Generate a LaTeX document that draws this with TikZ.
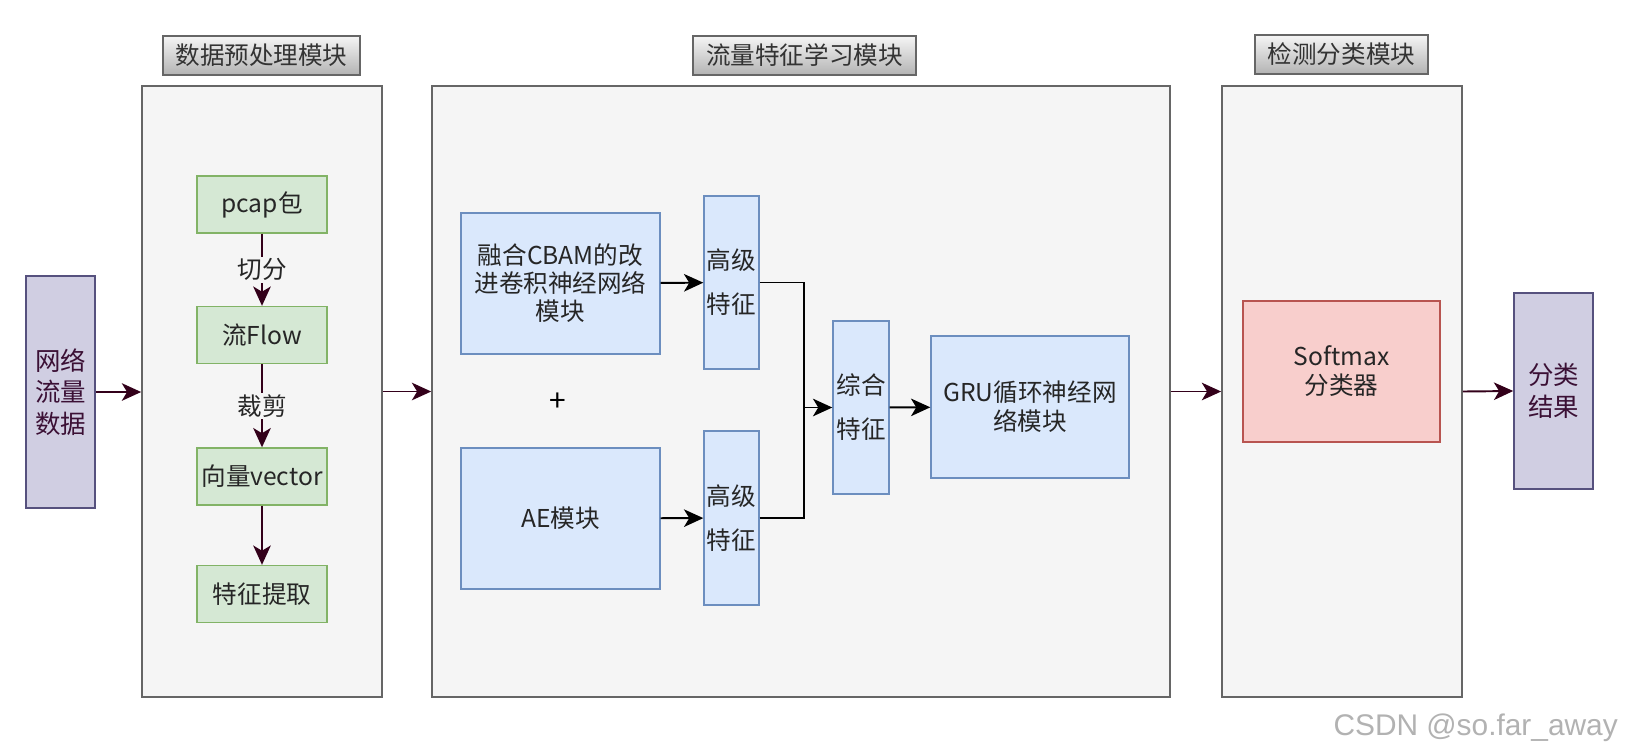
\documentclass[tikz,border=0pt]{standalone}
\usepackage{fontspec}
\setmainfont{Noto Sans CJK SC}
\newfontfamily\wmfont{Liberation Sans}
\usetikzlibrary{positioning, arrows.meta, calc}

\definecolor{panelfill}{HTML}{F5F5F5}
\definecolor{panelline}{HTML}{666666}
\definecolor{titlebot}{HTML}{B3B3B3}
\definecolor{grnfill}{HTML}{D5E8D4}
\definecolor{grnline}{HTML}{82B366}
\definecolor{bluefill}{HTML}{DAE8FC}
\definecolor{blueline}{HTML}{6C8EBF}
\definecolor{redfill}{HTML}{F8CECC}
\definecolor{redline}{HTML}{B85450}
\definecolor{purfill}{HTML}{D0CEE2}
\definecolor{purline}{HTML}{56517E}
\definecolor{wine}{HTML}{33001A}
\definecolor{purtext}{HTML}{3B1035}

\begin{document}
\begin{tikzpicture}[
  x=0.02cm, y=-0.02cm,
  font=\fontsize{14}{16}\selectfont,
  panel/.style={draw=panelline, fill=panelfill, line width=1pt, inner sep=0pt,
    minimum width=4.8cm, minimum height=12.22cm},
  title/.style={draw=panelline, top color=panelfill, bottom color=titlebot, line width=0.8pt,
    minimum height=0.78cm, inner sep=0pt, text=black!80, font=\fontsize{14}{16}\selectfont},
  iobox/.style={draw=purline, fill=purfill, line width=0.9pt, align=center, inner sep=2pt,
    text=purtext, font=\fontsize{14.5}{18}\selectfont},
  prepbox/.style={draw=grnline, fill=grnfill, line width=0.8pt, align=center, inner sep=2pt,
    minimum width=2.6cm, minimum height=1.14cm, text=black!85},
  learnbox/.style={draw=blueline, fill=bluefill, line width=0.8pt, align=center, inner sep=2pt,
    minimum width=3.98cm, minimum height=2.82cm, text=black!85},
  featbox/.style={draw=blueline, fill=bluefill, line width=0.8pt, align=center, inner sep=1pt,
    minimum width=1.1cm, minimum height=3.46cm, text=black!85, font=\fontsize{14}{25}\selectfont},
  clsbox/.style={draw=redline, fill=redfill, line width=0.8pt, align=center, inner sep=2pt,
    minimum width=3.94cm, minimum height=2.82cm, text=black!85},
  cut/.style={fill=panelfill, inner sep=1pt, text=black!85},
  wflow/.style={-{Stealth[length=11pt, width=10pt, inset=3pt]}, line width=1.1pt, draw=wine},
  bflow/.style={-{Stealth[length=11pt, width=10pt, inset=3pt]}, line width=1.1pt, draw=black},
  bline/.style={line width=1.1pt, draw=black}
]

\fill[white] (0,0) rectangle (1626,755);
\useasboundingbox (0,0) rectangle (1626,755);

% --- three module panels with their titles ---
\node[panel] (prep) at (262,391.5) {};
\node[panel, minimum width=14.76cm] (learn) at (801,391.5) {};
\node[panel] (detect) at (1342,391.5) {};

\node[title, minimum width=3.94cm] (t1) at (261.5,55.5) {数据预处理模块};
\node[title, minimum width=4.46cm] (t2) at (804.5,55.5) {流量特征学习模块};
\node[title, minimum width=3.46cm] (t3) at (1341.5,54.5) {检测分类模块};

% --- input and output ---
\node[iobox, minimum width=1.38cm, minimum height=4.64cm] (net) at (60.5,392) {网络\\流量\\数据};
\node[iobox, minimum width=1.58cm, minimum height=3.92cm] (res) at (1553.5,391) {分类\\结果};

% --- preprocessing steps ---
\node[prepbox] (pcap) at (262,204.5) {pcap包};
\node[prepbox] (flow) at (262,335) {流Flow};
\node[prepbox] (vec)  at (262,476.5) {向量vector};
\node[prepbox] (ext)  at (262,594) {特征提取};

\draw[wflow] (pcap) -- node[cut] {切分} (flow);
\draw[wflow] (flow) -- node[cut] {裁剪} (vec);
\draw[wflow] (vec) -- (ext);

% --- feature learning ---
\node[learnbox] (cbam) at (560.5,283.5) {融合CBAM的改\\进卷积神经网络\\模块};
\node[learnbox] (ae)   at (560.5,518.5) {AE模块};
\node[featbox] (hi1) at (731.5,282.5) {高级\\特征};
\node[featbox, minimum height=3.48cm] (hi2) at (731.5,518) {高级\\特征};
\node (plus) at (558,402) {\fontsize{17}{17}\selectfont +};
\node[featbox, minimum width=1.12cm] (mix) at (861,407.5) {综合\\特征};
\node[learnbox, minimum width=3.96cm, minimum height=2.84cm, font=\fontsize{14}{16.5}\selectfont]
  (gru) at (1030,407) {GRU循环神经网\\络模块};
\coordinate (jn) at (804,407.5);

\draw[bflow] (cbam) -- (hi1);
\draw[bflow] (ae) -- (hi2);
\draw[bline] (hi1.east) -| (jn);
\draw[bline] (hi2.east) -| (jn);
\draw[bflow] (jn) -- (mix.west);
\draw[bflow] (mix) -- (gru);

% --- classifier ---
\node[clsbox, font=\fontsize{14}{16.5}\selectfont] (soft) at (1341.5,371.5) {Softmax\\分类器};

% --- main flow between the modules ---
\draw[wflow] (net.east) -- (net.east -| prep.west);
\draw[wflow] (prep.east) -- (learn.west);
\draw[wflow] (learn.east) -- (detect.west);
\draw[wflow] (detect.east) -- (res.west);

\node[anchor=east, font=\wmfont\fontsize{17}{20}\selectfont, text=black!30] (mark) at (1624,728) {CSDN @so.far\_away};

\end{tikzpicture}
\end{document}
